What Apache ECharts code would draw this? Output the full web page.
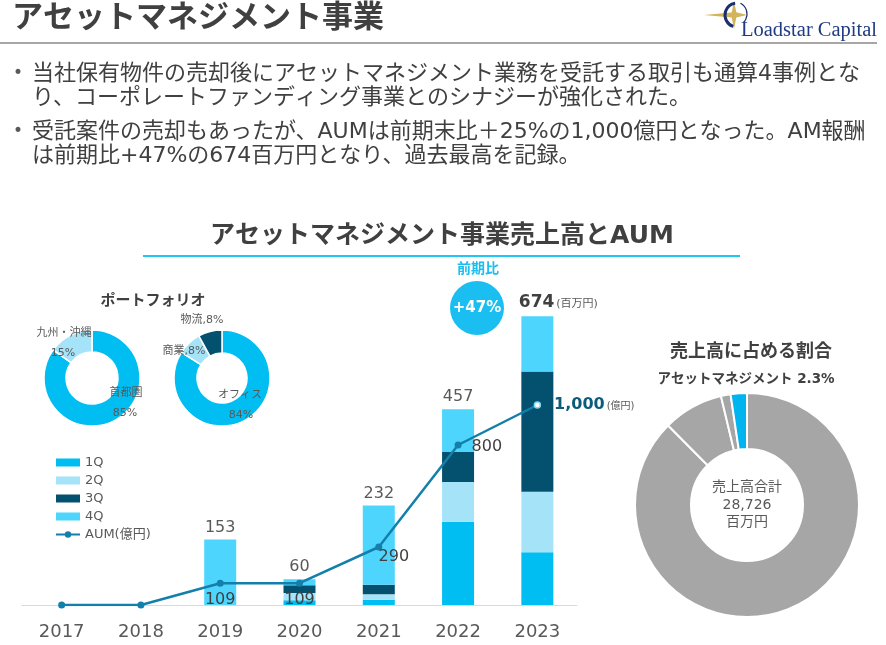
<!DOCTYPE html>
<html><head><meta charset="utf-8">
<script src="https://cdn.jsdelivr.net/npm/echarts@6/dist/echarts.min.js"></script>
<style>html,body{margin:0;padding:0;background:#fff}#c{width:886px;height:645px}</style>
</head><body><div id="c"></div>
<script>
// ---- data ----
const years = ['2017','2018','2019','2020','2021','2022','2023'];
const q1 = [null, null, 0, 11, 12, 194, 123];
const q2 = [null, null, 0, 17, 13, 93, 141];
const q3 = [null, null, 0, 18, 22, 70, 281];
const q4 = [null, null, 153, 14, 185, 100, 129];
const totals = [null, null, 153, 60, 232, 457, 674];
const aum = [0, 0, 109, 109, 290, 800, 1000];
const seriesNames = ['1Q', '2Q', '3Q', '4Q', 'AUM(億円)'];
const regionNames = ['首都圏', '九州・沖縄'];
const regionShare = [85, 15];
const useNames = ['オフィス', '商業', '物流'];
const useShare = [84, 8, 8];
const salesNames = ['コーポレートファンディング', 'クラウドファンディング', 'その他', 'アセットマネジメント'];
const salesValues = [25152, 2500, 400, 674];
const salesTotal = 28726;
const bullets = [
  ['当社保有物件の売却後にアセットマネジメント業務を受託する取引も通算4事例とな', 'り、コーポレートファンディング事業とのシナジーが強化された。'],
  ['受託案件の売却もあったが、AUMは前期末比＋25%の1,000億円となった。AM報酬', 'は前期比+47%の674百万円となり、過去最高を記録。']
];

// ---- styles ----
const F = "'DejaVu Sans','Noto Sans CJK JP',sans-serif";
const C1 = '#00bef2', C2 = '#a5e3f9', C3 = '#04506f', C4 = '#4dd5fd';
const LINE = '#137fab', GRAY_T = '#595959', DARK_T = '#404040';

function T(text, x, y, size, color, weight, align, family) {
  return { type: 'text', x: x, y: y, silent: true, z: 100,
    style: { text: text, fontSize: size, fontFamily: family || F, fontWeight: weight || 'normal',
      fill: color || DARK_T, align: align || 'left', verticalAlign: 'middle',
      textAlign: align || 'left', textVerticalAlign: 'middle' } };
}

const last = years.length - 1;
const fmt = v => v.toLocaleString('en-US');
const growth = Math.round((totals[last] / totals[last - 1] - 1) * 100);

// label configuration per AUM point (styles kept separate from data)
const aumLabelCfg = [
  { show: false }, { show: false },
  { show: true, position: 'bottom', distance: 5 },
  { show: true, position: 'bottom', distance: 5 },
  { show: true, position: 'bottom', distance: 3, offset: [15, -5] },
  { show: true, position: 'right', distance: 10, offset: [0, 2] },
  { show: true, position: 'right', distance: 13,
    formatter: '{b|' + fmt(aum[last]) + '}{s|(億円)}',
    rich: { b: { fontSize: 16, fontWeight: 'bold', color: '#0d5b7b', fontFamily: F },
            s: { fontSize: 10, color: GRAY_T, fontFamily: F, padding: [2, 0, 0, 2] } } }
];

const aumData = aum.map((v, i) => {
  const d = { value: v, label: aumLabelCfg[i] };
  if (i === last) {
    d.symbolSize = 6;
    d.itemStyle = { color: '#ffffff', borderColor: '#7fd6f2', borderWidth: 1.5 };
  }
  return d;
});

const q4Data = q4.map((v, i) => {
  if (i !== last) return v;
  return { value: v, label: {
    formatter: '{b|' + totals[i] + '}{s|(百万円)}', offset: [21, 0], distance: 5,
    rich: { b: { fontSize: 17, fontWeight: 'bold', color: DARK_T, fontFamily: F },
            s: { fontSize: 11, color: GRAY_T, fontFamily: F, padding: [2, 0, 0, 2] } } } };
});

const barBase = { type: 'bar', stack: 'q', barWidth: 32, xAxisIndex: 0, yAxisIndex: 0, silent: true };

const chart = echarts.init(document.getElementById('c'), null, { renderer: 'canvas' });

const graphics = [
  T('アセットマネジメント事業', 12, 19, 31, DARK_T, 'bold'),
  { type: 'line', silent: true, shape: { x1: 0, y1: 43, x2: 877, y2: 43 }, style: { stroke: '#a6a6a6', lineWidth: 2 } },
  // logo
  { type: 'polygon', silent: true, shape: { points: [[734, 1], [736.3, 12.3], [747, 15], [736.3, 17.5], [734, 29], [731.7, 17.5], [704, 15], [731.7, 12.5]] },
    style: { fill: '#d2b45a' } },
  { type: 'arc', silent: true, shape: { cx: 737, cy: 15, r: 12, startAngle: Math.PI * 0.6, endAngle: Math.PI * 1.45 },
    style: { stroke: '#1b2f6e', lineWidth: 3, fill: null } },
  { type: 'arc', silent: true, shape: { cx: 735, cy: 14, r: 12, startAngle: -Math.PI * 0.35, endAngle: Math.PI * 0.25 },
    style: { stroke: '#1b2f6e', lineWidth: 1.2, fill: null } },
  T('Loadstar Capital', 741, 31, 20.5, '#1f3b82', 'normal', 'left', "'Liberation Serif',serif"),
  // bullets
  T('•', 13, 74, 17, GRAY_T),
  T(bullets[0][0], 32, 74, 22, DARK_T),
  T(bullets[0][1], 32, 98, 22, DARK_T),
  T('•', 13, 132, 17, GRAY_T),
  T(bullets[1][0], 32, 132, 22, DARK_T),
  T(bullets[1][1], 32, 156, 22, DARK_T),
  // chart title
  T('アセットマネジメント事業売上高とAUM', 442, 236, 25, DARK_T, 'bold', 'center'),
  { type: 'line', silent: true, shape: { x1: 143, y1: 256, x2: 740, y2: 256 }, style: { stroke: '#1ec7f5', lineWidth: 2 } },
  // growth badge
  T('前期比', 478, 269, 14, '#1bbef0', 'bold', 'center'),
  { type: 'circle', silent: true, shape: { cx: 477, cy: 308, r: 27 }, style: { fill: '#1bbef0' } },
  T('+' + growth + '%', 477, 308, 15, '#ffffff', 'bold', 'center'),
  // portfolio
  T('ポートフォリオ', 153, 301, 15, DARK_T, 'bold', 'center'),
  T(regionNames[1], 64, 333, 11, GRAY_T, 'normal', 'center'),
  T(regionShare[1] + '%', 63, 353, 11, GRAY_T, 'normal', 'center'),
  T(regionNames[0], 126, 393, 11, GRAY_T, 'normal', 'center'),
  T(regionShare[0] + '%', 125, 413, 11, GRAY_T, 'normal', 'center'),
  T(useNames[2] + ',' + useShare[2] + '%', 202, 320, 11, GRAY_T, 'normal', 'center'),
  T(useNames[1] + ',' + useShare[1] + '%', 184, 351, 11, GRAY_T, 'normal', 'center'),
  T(useNames[0], 240, 395, 11, GRAY_T, 'normal', 'center'),
  T(useShare[0] + '%', 241, 415, 11, GRAY_T, 'normal', 'center'),
  // sales share
  T('売上高に占める割合', 751, 352, 18, DARK_T, 'bold', 'center'),
  T(salesNames[3] + ' ' + (salesValues[3] / salesTotal * 100).toFixed(1) + '%', 746, 379, 13.5, DARK_T, 'bold', 'center'),
  T('売上高合計', 747, 487, 14, GRAY_T, 'normal', 'center'),
  T(fmt(salesTotal), 747, 505, 14, GRAY_T, 'normal', 'center'),
  T('百万円', 747, 522, 14, GRAY_T, 'normal', 'center')
];

const pieBase = { type: 'pie', silent: true, startAngle: 90, clockwise: true, label: { show: false }, labelLine: { show: false },
  itemStyle: { borderColor: '#ffffff', borderWidth: 1.5 }, emphasis: { disabled: true } };

chart.setOption({
  animation: false,
  backgroundColor: '#ffffff',
  textStyle: { fontFamily: F },
  legend: {
    orient: 'vertical', left: 55, top: 456, padding: 0, itemWidth: 24, itemHeight: 8, itemGap: 5,
    textStyle: { fontSize: 13, color: GRAY_T, lineHeight: 13, fontFamily: F },
    data: [
      { name: seriesNames[0], icon: 'rect' }, { name: seriesNames[1], icon: 'rect' },
      { name: seriesNames[2], icon: 'rect' }, { name: seriesNames[3], icon: 'rect' },
      { name: seriesNames[4] }
    ],
    selectedMode: false
  },
  grid: [{ left: 22, right: 309, top: 305, bottom: 40, containLabel: false }],
  xAxis: [{ type: 'category', data: years, gridIndex: 0,
    axisLine: { show: true, lineStyle: { color: '#d9d9d9', width: 1 } }, axisTick: { show: false },
    axisLabel: { fontSize: 18, color: GRAY_T, margin: 18, fontFamily: F }, splitLine: { show: false } }],
  yAxis: [
    { type: 'value', min: 0, max: 700, show: false, gridIndex: 0, splitLine: { show: false } },
    { type: 'value', min: 0, max: 1500, show: false, gridIndex: 0, splitLine: { show: false } }
  ],
  series: [
    Object.assign({}, barBase, { name: seriesNames[0], data: q1, itemStyle: { color: C1 } }),
    Object.assign({}, barBase, { name: seriesNames[1], data: q2, itemStyle: { color: C2 } }),
    Object.assign({}, barBase, { name: seriesNames[2], data: q3, itemStyle: { color: C3 } }),
    Object.assign({}, barBase, { name: seriesNames[3], data: q4Data, itemStyle: { color: C4 },
      label: { show: true, position: 'top', distance: 4, color: GRAY_T, fontSize: 16, fontFamily: F,
        formatter: p => totals[p.dataIndex] == null ? '' : String(totals[p.dataIndex]) } }),
    { type: 'line', name: seriesNames[4], xAxisIndex: 0, yAxisIndex: 1, data: aumData, z: 10, silent: true,
      symbol: 'circle', symbolSize: 7, lineStyle: { color: LINE, width: 2.5 }, itemStyle: { color: LINE },
      label: { color: DARK_T, fontSize: 16, fontFamily: F }, emphasis: { disabled: true } },
    Object.assign({}, pieBase, { name: 'region', center: [92, 378], radius: [26, 48],
      data: regionNames.map((n, i) => ({ name: n, value: regionShare[i], itemStyle: { color: [C1, C2][i] } })) }),
    Object.assign({}, pieBase, { name: 'use', center: [222, 378], radius: [25, 48],
      data: useNames.map((n, i) => ({ name: n, value: useShare[i], itemStyle: { color: [C1, C2, C3][i] } })) }),
    Object.assign({}, pieBase, { name: 'sales', center: [747, 505], radius: [56, 112],
      itemStyle: { borderColor: '#ffffff', borderWidth: 2 },
      data: salesNames.map((n, i) => ({ name: n, value: salesValues[i], itemStyle: { color: i === 3 ? '#00b4ef' : '#a6a6a6' } })) })
  ],
  graphic: graphics
});
</script>
</body></html>
